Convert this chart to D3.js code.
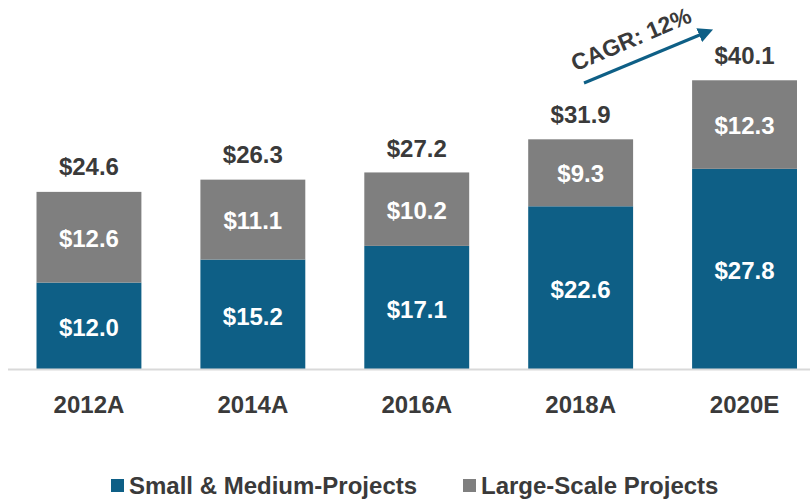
<!DOCTYPE html>
<html><head><meta charset="utf-8">
<script src="https://cdn.jsdelivr.net/npm/d3@7"></script>
<style>body{margin:0;background:#fff}svg{display:block;font-family:"Liberation Sans",Arial,sans-serif}</style>
</head><body><svg id="c" width="810" height="500"></svg>
<script>
const categories = ["2012A","2014A","2016A","2018A","2020E"];
const smallMedium = [12.0,15.2,17.1,22.6,27.8];
const largeScale = [12.6,11.1,10.2,9.3,12.3];
const totals = [24.6,26.3,27.2,31.9,40.1];
const seriesNames = ["Small & Medium-Projects","Large-Scale Projects"];
const cagrLabel = "CAGR: 12%";

const colors = ["#0e5f86","#7f7f7f"];
const textColor = "#3a3a3a";
const svg = d3.select("#c");
const base = 369;
const x = d3.scaleBand().domain(categories).range([7,826.5]).paddingInner(0.36).paddingOuter(0.18);
const y = d3.scaleLinear().domain([0,45]).range([base, base-45*7.2]);

const data = categories.map((c,i)=>({c, s:smallMedium[i], l:largeScale[i], t:totals[i]}));

const g = svg.append("g");
g.selectAll(".b1").data(data).join("rect")
  .attr("x",d=>x(d.c)).attr("width",x.bandwidth())
  .attr("y",d=>y(d.s)).attr("height",d=>y(0)-y(d.s)).attr("fill",colors[0]);
g.selectAll(".b2").data(data).join("rect")
  .attr("x",d=>x(d.c)).attr("width",x.bandwidth())
  .attr("y",d=>y(d.s+d.l)).attr("height",d=>y(d.s)-y(d.s+d.l)).attr("fill",colors[1]);

const fs = 24;
g.selectAll(".l1").data(data).join("text")
  .attr("x",d=>x(d.c)+x.bandwidth()/2).attr("y",d=>(y(0)+y(d.s))/2+2)
  .attr("dy","0.35em").attr("text-anchor","middle").attr("fill","#fff")
  .attr("font-weight","bold").attr("font-size",fs).text(d=>"$"+d.s.toFixed(1));
g.selectAll(".l2").data(data).join("text")
  .attr("x",d=>x(d.c)+x.bandwidth()/2).attr("y",d=>(y(d.s)+y(d.s+d.l))/2+1)
  .attr("dy","0.35em").attr("text-anchor","middle").attr("fill","#fff")
  .attr("font-weight","bold").attr("font-size",fs).text(d=>"$"+d.l.toFixed(1));
g.selectAll(".lt").data(data).join("text")
  .attr("x",d=>x(d.c)+x.bandwidth()/2).attr("y",d=>y(d.t)-25)
  .attr("dy","0.35em").attr("text-anchor","middle").attr("fill",textColor)
  .attr("font-weight","bold").attr("font-size",fs).text(d=>"$"+d.t.toFixed(1));

const ax = svg.append("g").attr("transform",`translate(0,${base})`)
  .call(d3.axisBottom(x).tickSize(0).tickPadding(27));
ax.select(".domain").attr("stroke","#d9d9d9").attr("stroke-width",2).attr("d","M8,0.5H810");
ax.selectAll("text").attr("font-family","Liberation Sans, Arial, sans-serif")
  .attr("font-size",fs).attr("font-weight","bold").attr("fill",textColor);

svg.append("defs").append("marker").attr("id","ah").attr("viewBox","0 0 10 10")
  .attr("refX",2).attr("refY",5).attr("markerWidth",5).attr("markerHeight",5)
  .attr("orient","auto").append("path").attr("d","M0,0L10,5L0,10z").attr("fill",colors[0]);
svg.append("line").attr("x1",584).attr("y1",83).attr("x2",702).attr("y2",34)
  .attr("stroke",colors[0]).attr("stroke-width",3).attr("marker-end","url(#ah)");
svg.append("text").attr("transform","translate(631,39) rotate(-23)")
  .attr("text-anchor","middle").attr("dy","0.35em").attr("fill",textColor)
  .attr("font-weight","bold").attr("font-size",23).text(cagrLabel);

const legX = [111,463];
const lg = svg.selectAll(".lg").data(seriesNames).join("g").attr("transform",(d,i)=>`translate(${legX[i]},486)`);
lg.append("rect").attr("x",0).attr("y",-7).attr("width",13).attr("height",13).attr("fill",(d,i)=>colors[i]);
lg.append("text").attr("x",18).attr("dy","0.35em").attr("fill",textColor)
  .attr("font-weight","bold").attr("font-size",fs).text(d=>d);
</script></body></html>
